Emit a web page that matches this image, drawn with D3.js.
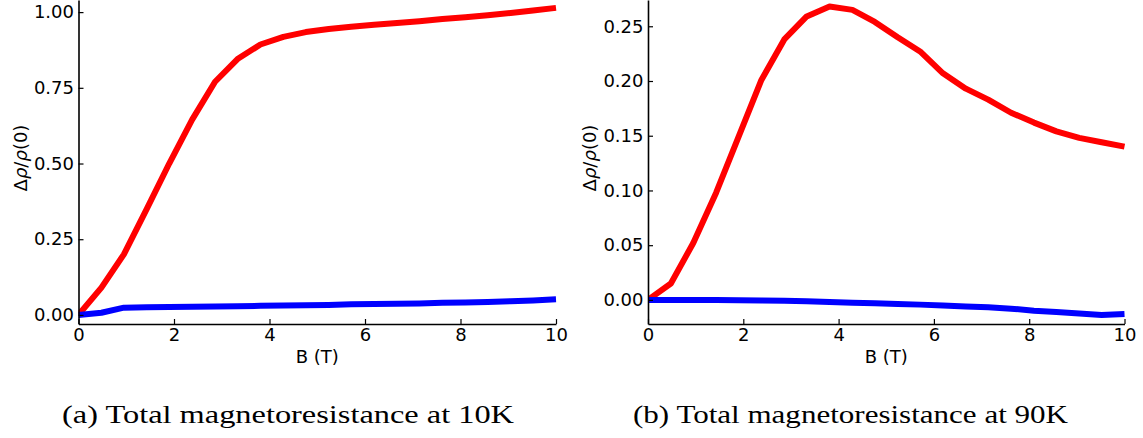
<!DOCTYPE html>
<html lang="en">
<head>
<meta charset="UTF-8">
<title>Total magnetoresistance</title>
<script src="https://d3js.org/d3.v7.min.js"></script>
<style>
    body { margin: 0; background: #fff; }
    svg { display: block; }
    .tick text { font-family: "DejaVu Sans", sans-serif; font-size: 18px; fill: #000; }
    .lbl { font-family: "DejaVu Sans", sans-serif; font-size: 18px; fill: #000; }
    .cap { font-family: "Liberation Serif", serif; font-size: 26px; fill: #000; }
</style>
</head>
<body>
<div id="chart"></div>
<script>
    // field values (T)
    const fieldB = [0, 0.48, 0.95, 1.43, 1.9, 2.38, 2.86, 3.33, 3.81, 4.29, 4.76,
        5.24, 5.71, 6.19, 6.67, 7.14, 7.62, 8.1, 8.57, 9.05, 9.52, 10];

    // 10K
    const red10K = [0, 0.09, 0.2, 0.35, 0.5, 0.645, 0.77, 0.845, 0.893, 0.918, 0.934,
        0.944, 0.952, 0.958, 0.964, 0.97, 0.977, 0.983, 0.99, 0.997, 1.005, 1.014];
    const blue10K = [0, 0.007, 0.024, 0.025, 0.026, 0.027, 0.028, 0.029, 0.03, 0.031, 0.032,
        0.033, 0.035, 0.036, 0.037, 0.038, 0.04, 0.041, 0.043, 0.045, 0.048, 0.052];

    // 90K
    const red90K = [0, 0.015, 0.052, 0.098, 0.149, 0.201, 0.238, 0.259, 0.268, 0.265, 0.254,
        0.24, 0.227, 0.207, 0.193, 0.183, 0.171, 0.162, 0.154, 0.148, 0.144, 0.14];
    const blue90K = [0, 0, 0, 0, -0.0003, -0.0005, -0.0008, -0.0012, -0.0018, -0.0025, -0.0031,
        -0.0037, -0.0043, -0.0052, -0.006, -0.0067, -0.008, -0.0098, -0.011, -0.0125, -0.0138, -0.0128];

    const xTicks = [0, 2, 4, 6, 8, 10];
    const yTicks10K = [0, 0.25, 0.5, 0.75, 1.0];
    const yTicks90K = [0, 0.05, 0.1, 0.15, 0.2, 0.25];
    const captions = ['(a) Total magnetoresistance at 10K', '(b) Total magnetoresistance at 90K'];

    const width = 1143, height = 438;

    const svg = d3.select('#chart').append('svg')
        .attr('width', width)
        .attr('height', height);

    const panels = [
        { left: 78.5, right: 556, top: 0, bottom: 324, yDomain: [-0.03, 1.04], yTicks: yTicks10K,
          red: red10K, blue: blue10K, capX: 62, capW: 452 },
        { left: 648, right: 1124.5, top: 0, bottom: 324, yDomain: [-0.022, 0.274], yTicks: yTicks90K,
          red: red90K, blue: blue90K, capX: 633, capW: 435 }
    ];

    panels.forEach((p, i) => {
        const g = svg.append('g');

        const x = d3.scaleLinear().domain([0, 10]).range([p.left, p.right]);
        const y = d3.scaleLinear().domain(p.yDomain).range([p.bottom, p.top]);

        const clipId = 'clip' + i;
        svg.append('clipPath').attr('id', clipId)
            .append('rect')
            .attr('x', p.left).attr('y', p.top)
            .attr('width', p.right - p.left + 4).attr('height', p.bottom - p.top);

        const line = d3.line()
            .x((d, j) => x(fieldB[j]))
            .y(d => y(d));

        [[p.red, '#ff0000'], [p.blue, '#0000ff']].forEach(([vals, col]) => {
            g.append('path')
                .datum(vals)
                .attr('clip-path', `url(#${clipId})`)
                .attr('fill', 'none')
                .attr('stroke', col)
                .attr('stroke-width', 6)
                .attr('stroke-linejoin', 'round')
                .attr('d', line);
        });

        // bottom axis, ticks pointing inward
        g.append('g')
            .attr('transform', `translate(0,${p.bottom})`)
            .call(d3.axisBottom(x).tickValues(xTicks).tickFormat(d3.format('d'))
                .tickSizeInner(-5).tickSizeOuter(0).tickPadding(4))
            .call(a => a.select('.domain').attr('stroke-width', 1.6))
            .call(a => a.selectAll('.tick line').attr('stroke-width', 1.2))
            .call(a => a.selectAll('.tick text').attr('dy', 0).attr('y', 17));

        // left axis
        g.append('g')
            .attr('transform', `translate(${p.left},0)`)
            .call(d3.axisLeft(y).tickValues(p.yTicks).tickFormat(d3.format('.2f'))
                .tickSizeInner(-5).tickSizeOuter(0).tickPadding(4))
            .call(a => a.select('.domain').attr('stroke-width', 1.6))
            .call(a => a.selectAll('.tick line').attr('stroke-width', 1.2))
            .call(a => a.selectAll('.tick text').attr('x', -4.5));

        // axis labels
        g.append('text')
            .attr('class', 'lbl')
            .attr('x', (p.left + p.right) / 2)
            .attr('y', 363)
            .attr('text-anchor', 'middle')
            .text('B (T)');

        const yl = g.append('text')
            .attr('class', 'lbl')
            .attr('transform', `translate(${p.left - 52},158) rotate(-90)`)
            .attr('text-anchor', 'middle');
        yl.append('tspan').text('Δ');
        yl.append('tspan').attr('font-style', 'italic').text('ρ');
        yl.append('tspan').text('/');
        yl.append('tspan').attr('font-style', 'italic').text('ρ');
        yl.append('tspan').text('(0)');

        // caption
        svg.append('text')
            .attr('class', 'cap')
            .attr('x', p.capX)
            .attr('y', 423)
            .attr('textLength', p.capW)
            .attr('lengthAdjust', 'spacingAndGlyphs')
            .text(captions[i]);
    });
</script>
</body>
</html>
